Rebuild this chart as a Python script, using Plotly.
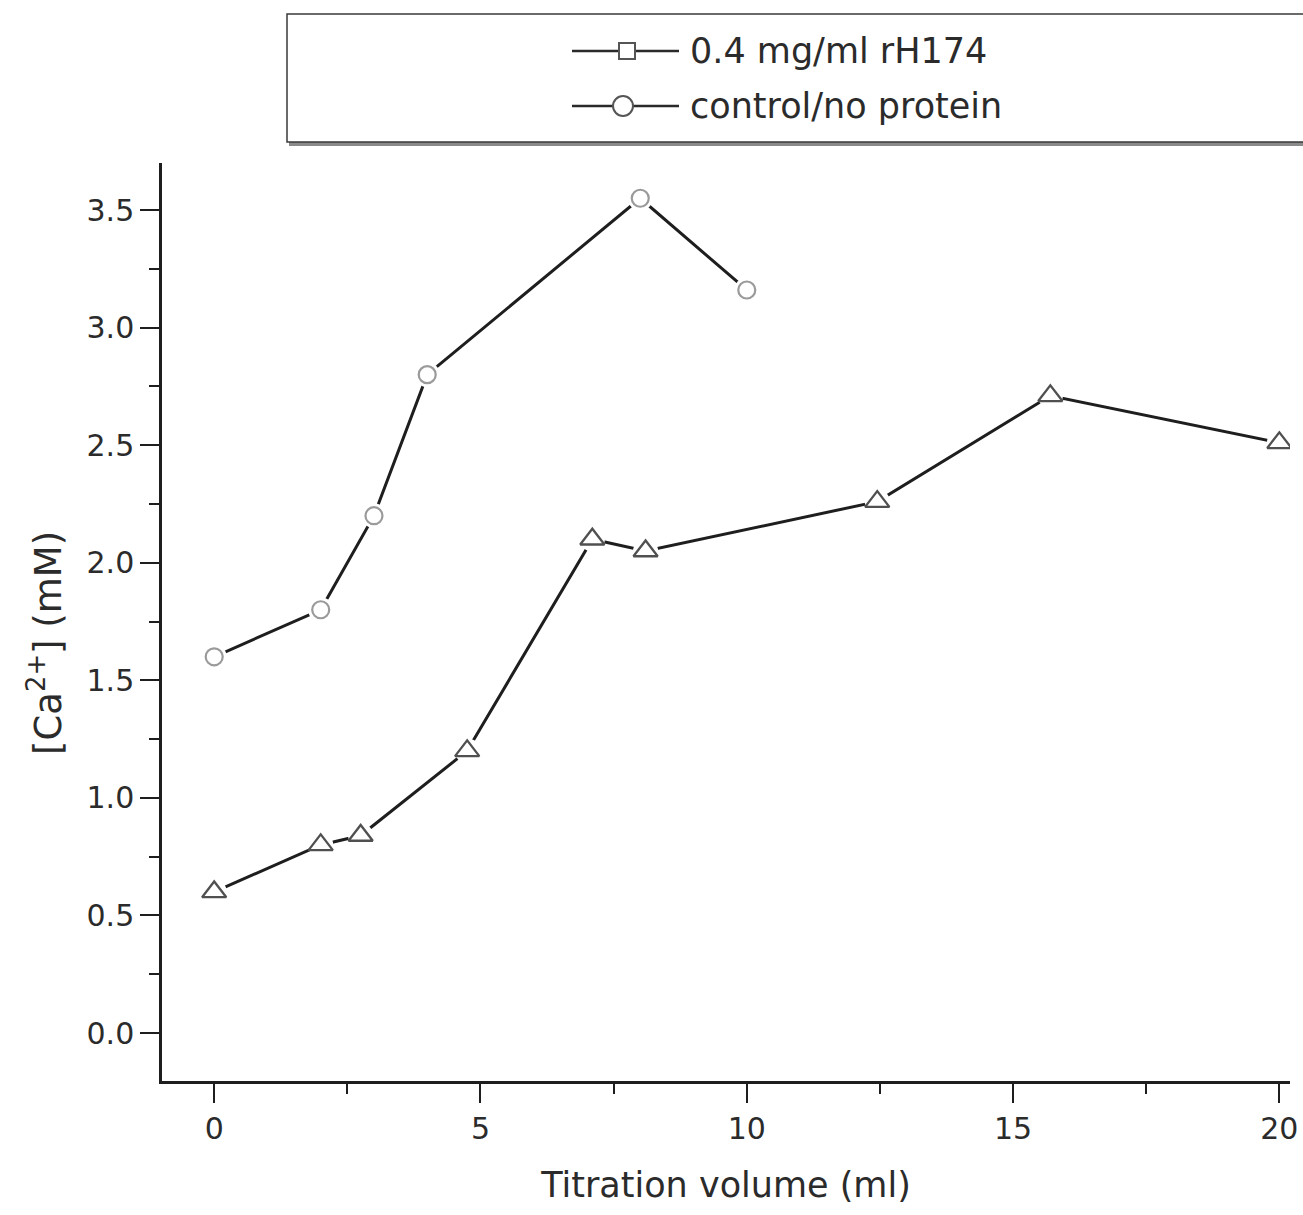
import plotly.graph_objects as go

# ---- data ----
control_x = [0, 2, 3, 4, 8, 10]
control_y = [1.6, 1.8, 2.2, 2.8, 3.55, 3.16]

protein_x = [0, 2, 2.75, 4.75, 7.1, 8.1, 12.45, 15.7, 20]
protein_y = [0.6, 0.8, 0.84, 1.2, 2.1, 2.05, 2.26, 2.71, 2.51]

legend_labels = ["0.4 mg/ml rH174", "control/no protein"]
x_ticks = [0, 5, 10, 15, 20]
y_ticks = [0.0, 0.5, 1.0, 1.5, 2.0, 2.5, 3.0, 3.5]
y_tick_text = ["0.0", "0.5", "1.0", "1.5", "2.0", "2.5", "3.0", "3.5"]
x_title = "Titration volume (ml)"
y_title = "[Ca<sup>2+</sup>] (mM)"

# ---- layout geometry ----
W, H = 1303, 1215
ML, MR, MT, MB = 162, 13, 163, 134
PW, PH = W - ML - MR, H - MT - MB

def px(xp):
    return (xp - ML) / PW

def py(yp):
    return (H - MB - yp) / PH

FONT = "DejaVu Sans"
TXT = "#2b2b2b"
LINE = "#1e1e1e"

fig = go.Figure()

# lines with white "gap" markers (Origin style)
for xs, ys in [(control_x, control_y), (protein_x, protein_y)]:
    fig.add_trace(go.Scatter(
        x=xs, y=ys, mode="lines+markers",
        line=dict(color=LINE, width=3),
        marker=dict(symbol="circle", size=25, color="white", line=dict(width=0)),
        showlegend=False, hoverinfo="skip"))

fig.add_trace(go.Scatter(
    x=control_x, y=control_y, mode="markers", name=legend_labels[1],
    marker=dict(symbol="circle", size=17, color="white",
                line=dict(color="#9a9a9a", width=2.2)),
    showlegend=False))
fig.add_trace(go.Scatter(
    x=protein_x, y=protein_y, mode="markers", name=legend_labels[0],
    marker=dict(symbol="triangle-up", size=21, color="white",
                line=dict(color="#505050", width=2.3)),
    showlegend=False))

shapes = []
annotations = []

# legend box (shadow + frame), runs off the right edge as in the reference
shapes.append(dict(type="rect", xref="paper", yref="paper",
                   x0=px(290), x1=px(1330), y0=py(145), y1=py(17),
                   line=dict(color="#8a8a8a", width=2), fillcolor="#8a8a8a", layer="above"))
shapes.append(dict(type="rect", xref="paper", yref="paper",
                   x0=px(287), x1=px(1330), y0=py(142), y1=py(14),
                   line=dict(color="#3a3a3a", width=1.5), fillcolor="white", layer="above"))

# legend rows
rows = [(51, "square", legend_labels[0]), (106, "circle", legend_labels[1])]
for yc, sym, label in rows:
    shapes.append(dict(type="line", xref="paper", yref="paper",
                       x0=px(572), x1=px(679), y0=py(yc), y1=py(yc),
                       line=dict(color="#2a2a2a", width=2.5), layer="above"))
    if sym == "square":
        shapes.append(dict(type="rect", xref="paper", yref="paper",
                           x0=px(619), x1=px(635), y0=py(yc + 8), y1=py(yc - 8),
                           line=dict(color="#555555", width=2), fillcolor="white", layer="above"))
    else:
        shapes.append(dict(type="circle", xref="paper", yref="paper",
                           x0=px(613), x1=px(633), y0=py(yc + 10), y1=py(yc - 10),
                           line=dict(color="#555555", width=2), fillcolor="white", layer="above"))
    annotations.append(dict(xref="paper", yref="paper", x=px(688), y=py(yc),
                            xanchor="left", yanchor="middle", showarrow=False,
                            text=label, font=dict(family=FONT, size=35, color=TXT)))

# y-axis title placed as in the reference (slightly below plot centre)
annotations.append(dict(xref="paper", yref="paper", x=px(45), y=py(643),
                        xanchor="center", yanchor="middle", showarrow=False,
                        textangle=-90, text=y_title,
                        font=dict(family=FONT, size=37, color=TXT)))

fig.update_layout(
    width=W, height=H,
    margin=dict(l=ML, r=MR, t=MT, b=MB, autoexpand=False),
    paper_bgcolor="white", plot_bgcolor="white",
    showlegend=False,
    shapes=shapes, annotations=annotations,
    font=dict(family=FONT, color=TXT),
    xaxis=dict(
        range=[-0.98, 20.2], tickvals=x_ticks, ticktext=[str(v) for v in x_ticks],
        automargin=False,
        showgrid=False, zeroline=False, showline=True, linecolor=LINE, linewidth=2.5,
        ticks="outside", ticklen=19, tickwidth=2, tickcolor=LINE,
        tickfont=dict(family=FONT, size=30, color=TXT),
        minor=dict(dtick=2.5, tick0=0, ticks="outside", ticklen=10, tickwidth=2,
                   tickcolor=LINE, showgrid=False),
        title=dict(text=x_title, standoff=28,
                   font=dict(family=FONT, size=35, color=TXT)),
    ),
    yaxis=dict(
        range=[-0.204, 3.70], tickvals=y_ticks, ticktext=y_tick_text,
        automargin=False,
        showgrid=False, zeroline=False, showline=True, linecolor=LINE, linewidth=2.5,
        ticks="outside", ticklen=19, tickwidth=2, tickcolor=LINE,
        tickfont=dict(family=FONT, size=30, color=TXT),
        minor=dict(dtick=0.5, tick0=0.25, ticks="outside", ticklen=10, tickwidth=2,
                   tickcolor=LINE, showgrid=False),
    ),
)

fig.write_html("out.html")
